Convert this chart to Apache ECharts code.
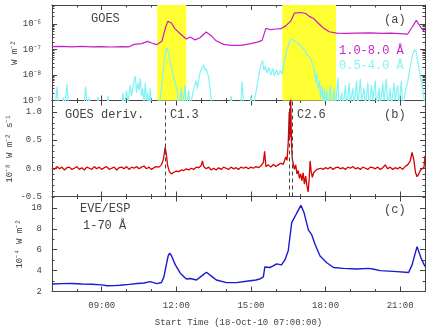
<!DOCTYPE html>
<html>
<head>
<meta charset="utf-8">
<script src="https://cdn.jsdelivr.net/npm/echarts@6/dist/echarts.min.js"></script>
<style>
html, body { margin: 0; padding: 0; background: #fff; }
#chart { width: 436px; height: 328px; }
</style>
</head>
<body>
<div id="chart"></div>
<script>
// hours after 00:00 on 18-Oct-2010
var hourTickValues = [9, 12, 15, 18, 21];
var hourTicks = ['09:00', '12:00', '15:00', '18:00', '21:00'];
var minorHours = [7, 8, 9, 10, 11, 12, 13, 14, 15, 16, 17, 18, 19, 20, 21, 22];

// yellow flare intervals and flare start marks
var flareBoxes = [[11.23, 12.40], [16.26, 18.42]];
var flareMarks = [11.57, 16.53, 16.65];

// GOES 1.0-8.0 A (W m^-2)
var goesLongT = [7.0, 7.4, 7.8, 8.2, 8.6, 9.0, 9.4, 9.8, 10.1, 10.3, 10.6, 10.85, 11.0, 11.2, 11.42, 11.56, 11.66, 11.8, 11.95, 12.2, 12.4, 12.55, 12.75, 12.95, 13.2, 13.4, 13.6, 13.9, 14.2, 14.6, 15.0, 15.3, 15.45, 15.6, 15.8, 16.0, 16.2, 16.4, 16.6, 16.75, 17.0, 17.2, 17.35, 17.5, 17.7, 17.9, 18.15, 18.45, 18.8, 19.25, 19.8, 20.3, 20.6, 21.0, 21.3, 21.5, 21.65, 21.85, 22.0];
var goesLong = [1.30e-7, 1.34e-7, 1.28e-7, 1.33e-7, 1.27e-7, 1.31e-7, 1.26e-7, 1.30e-7, 1.28e-7, 1.6e-7, 1.7e-7, 2.1e-7, 1.8e-7, 1.55e-7, 2.1e-7, 7.0e-7, 1.3e-6, 1.1e-6, 6.5e-7, 3.8e-7, 2.6e-7, 3.1e-7, 2.4e-7, 2.9e-7, 4.9e-7, 3.5e-7, 2.2e-7, 1.6e-7, 1.45e-7, 1.45e-7, 1.7e-7, 2.0e-7, 2.3e-7, 6.8e-7, 6.0e-7, 6.4e-7, 6.6e-7, 8.5e-7, 1.3e-6, 2.7e-6, 2.85e-6, 2.6e-6, 2.0e-6, 1.7e-6, 1.1e-6, 7.2e-7, 5.0e-7, 4.4e-7, 4.3e-7, 4.4e-7, 4.5e-7, 4.3e-7, 4.4e-7, 4.2e-7, 4.0e-7, 8.0e-7, 1.4e-6, 7.0e-7, 4.8e-7];

// GOES 0.5-4.0 A (W m^-2), values under 1e-9 fall below the axis
var goesShortT = [7.0, 7.13, 7.2, 7.27, 7.39, 7.45, 7.51, 7.53, 7.6, 7.67, 8.28, 8.35, 8.42, 8.5, 8.56, 8.79, 8.85, 8.91, 9.19, 9.25, 9.31, 9.8, 9.85, 9.9, 10.0, 10.05, 10.15, 10.2, 10.3, 10.35, 10.4, 10.45, 10.5, 10.55, 10.6, 10.65, 10.7, 10.75, 10.8, 10.85, 10.9, 10.95, 11.0, 11.3, 11.38, 11.45, 11.52, 11.6, 11.68, 11.76, 11.85, 11.95, 12.05, 12.1, 12.2, 12.25, 12.35, 12.4, 12.5, 12.55, 12.7, 12.8, 12.85, 12.95, 13.05, 13.1, 13.15, 13.2, 13.3, 13.35, 13.45, 14.13, 14.2, 14.27, 14.58, 14.65, 14.72, 14.93, 15.0, 15.07, 15.2, 15.3, 15.4, 15.47, 15.52, 15.58, 15.65, 15.72, 15.8, 15.88, 15.95, 16.02, 16.1, 16.18, 16.25, 16.33, 16.42, 16.52, 16.6, 16.7, 16.8, 16.9, 17.0, 17.1, 17.18, 17.25, 17.32, 17.4, 17.48, 17.55, 17.6, 17.65, 17.7, 17.75, 17.8, 17.85, 17.9, 17.95, 18.0, 18.05, 18.1, 18.2, 18.25, 18.35, 18.4, 18.5, 18.55, 18.65, 18.7, 18.8, 18.85, 18.95, 19.0, 19.1, 19.15, 19.25, 19.3, 19.4, 19.45, 19.55, 19.6, 19.7, 19.75, 19.85, 19.9, 20.0, 20.05, 20.15, 20.2, 20.3, 20.35, 20.45, 20.5, 20.6, 20.65, 20.75, 20.8, 20.9, 20.95, 21.05, 21.1, 21.2, 21.3, 21.4, 21.5, 21.58, 21.65, 21.72, 21.8, 21.88, 21.95, 22.0];
var goesShort = [5e-10, 5e-10, 3.5e-9, 5e-10, 5e-10, 1.3e-9, 5e-10, 5e-10, 4.5e-9, 5e-10, 5e-10, 3.5e-9, 5e-10, 1.3e-9, 5e-10, 5e-10, 1.4e-9, 5e-10, 5e-10, 1.5e-9, 5e-10, 5e-10, 2e-9, 5e-10, 2.5e-9, 8e-10, 4e-9, 1.5e-9, 6e-9, 9e-9, 2e-9, 5e-9, 2.5e-9, 7.5e-9, 1.5e-9, 3e-9, 8e-10, 5e-9, 1e-9, 2e-9, 5e-10, 3e-9, 5e-10, 5e-10, 2e-9, 8e-9, 4e-8, 1.15e-7, 8e-8, 3e-8, 1.2e-8, 5e-9, 2e-9, 5e-10, 3e-9, 5e-10, 4e-9, 5e-10, 2.5e-9, 5e-10, 3e-9, 6e-9, 3e-9, 1.2e-8, 2e-8, 2.5e-8, 1.5e-8, 1.8e-8, 8e-9, 3e-9, 5e-10, 5e-10, 1.5e-9, 5e-10, 5e-10, 5.5e-9, 5e-10, 5e-10, 1.5e-9, 5e-10, 2e-9, 8e-9, 2.5e-8, 3.7e-8, 1.5e-8, 2.2e-8, 1.2e-8, 2e-8, 1e-8, 1.8e-8, 9e-9, 1.6e-8, 1e-8, 1.5e-8, 1.1e-8, 3e-8, 8e-8, 1.6e-7, 2.6e-7, 2.3e-7, 2.0e-7, 1.7e-7, 1.4e-7, 1.1e-7, 9e-8, 6.5e-8, 7.5e-8, 4.5e-8, 2.5e-8, 1.5e-8, 5e-9, 1.2e-8, 3e-9, 6e-9, 1.2e-9, 4e-9, 8e-10, 3e-9, 5e-10, 2.5e-9, 5e-10, 4e-9, 5e-10, 3e-9, 5e-10, 8e-9, 5e-10, 2e-9, 5e-10, 4e-9, 5e-10, 5e-9, 8e-10, 3e-9, 5e-10, 6e-9, 5e-10, 7e-9, 1e-9, 3e-9, 5e-10, 5e-9, 5e-10, 4e-9, 1e-9, 6e-9, 5e-10, 3e-9, 5e-10, 5e-9, 1e-9, 7e-9, 5e-10, 3e-9, 5e-10, 5e-9, 1e-9, 4e-9, 5e-10, 6e-9, 5e-10, 2e-9, 5e-9, 2e-8, 6e-8, 1e-7, 8e-8, 3e-8, 1e-8, 4e-9, 1.5e-9, 5e-10];

// GOES derivative (1e-8 W m^-2 s^-1)
var derivT = [7.0, 7.1, 7.2, 7.3, 7.4, 7.5, 7.6, 7.7, 7.8, 7.9,
  8.0, 8.1, 8.2, 8.3, 8.4, 8.5, 8.6, 8.7, 8.8, 8.9,
  9.0, 9.1, 9.2, 9.3, 9.4, 9.5, 9.6, 9.7, 9.8, 9.9,
  10.0, 10.1, 10.2, 10.3, 10.4, 10.5, 10.6, 10.7, 10.8, 10.9,
  11.0, 11.1, 11.2, 11.3, 11.4, 11.48, 11.55, 11.6, 11.65, 11.72,
  11.8, 11.9, 12.0, 12.1, 12.2, 12.3, 12.4, 12.5, 12.6, 12.7,
  12.8, 12.9, 13.0, 13.05, 13.1, 13.2, 13.3, 13.4, 13.5, 13.6,
  13.7, 13.8, 13.9, 14.0, 14.1, 14.2, 14.3, 14.4, 14.5, 14.6,
  14.7, 14.8, 14.9, 15.0, 15.1, 15.2, 15.3, 15.4, 15.5, 15.55,
  15.6, 15.7, 15.8, 15.9, 16.0, 16.1, 16.2, 16.3, 16.4, 16.45,
  16.5, 16.54, 16.57, 16.6, 16.63, 16.66, 16.7, 16.75, 16.8, 16.85,
  16.9, 16.95, 17.0, 17.05, 17.1, 17.15, 17.2, 17.25, 17.3, 17.34,
  17.38, 17.42, 17.47, 17.52, 17.58, 17.65, 17.7, 17.8, 17.9, 18.0,
  18.1, 18.2, 18.3, 18.4, 18.5, 18.6, 18.7, 18.8, 18.9, 19.0,
  19.1, 19.2, 19.3, 19.4, 19.5, 19.6, 19.7, 19.8, 19.9, 20.0,
  20.1, 20.2, 20.3, 20.4, 20.5, 20.6, 20.7, 20.8, 20.9, 21.0,
  21.1, 21.2, 21.3, 21.4, 21.48, 21.55, 21.62, 21.68, 21.75, 21.82,
  21.9, 21.96, 22.0];
var derivV = [0.01, -0.02, 0.03, -0.01, 0.02, -0.03, 0.01, 0.02, -0.02, 0.0,
  0.03, -0.02, 0.01, -0.03, 0.02, 0.0, -0.02, 0.03, -0.01, 0.02,
  -0.02, 0.01, 0.03, -0.02, 0.0, 0.02, -0.03, 0.01, 0.02, -0.01,
  0.03, -0.02, 0.02, 0.0, 0.03, -0.01, 0.02, 0.04, -0.01, 0.02,
  -0.02, 0.01, 0.03, 0.02, 0.06, 0.16, 0.37, 0.24, 0.05, -0.06,
  -0.1, -0.07, -0.05, -0.06, -0.03, -0.04, -0.01, -0.03, 0.0, -0.02,
  0.02, 0.01, 0.05, 0.13, 0.03, -0.01, 0.02, -0.03, 0.0, -0.03,
  0.01, -0.02, 0.02, 0.0, -0.02, 0.02, -0.01, 0.01, -0.02, 0.02,
  0.0, 0.02, -0.01, 0.02, 0.0, 0.03, 0.01, 0.04, 0.1, 0.3,
  0.03, 0.06, 0.02, 0.07, 0.03, 0.06, 0.09, 0.07, 0.2, 0.14,
  0.45, 1.0, 0.55, 1.25, 0.45, 0.18, 0.08, -0.02, 0.06, -0.1,
  -0.04, -0.18, -0.1, -0.22, -0.08, -0.28, -0.14, -0.3, -0.42, -0.2,
  0.13, -0.05, -0.16, -0.08, -0.05, -0.02, -0.04, 0.0, -0.02, 0.01,
  -0.01, 0.02, -0.02, 0.01, 0.02, -0.01, 0.01, -0.02, 0.02, 0.0,
  0.03, -0.01, 0.01, -0.02, 0.02, 0.0, -0.02, 0.02, 0.01, -0.01,
  0.02, -0.02, 0.01, 0.06, -0.01, 0.02, -0.02, 0.01, -0.01, 0.02,
  -0.02, 0.03, 0.06, 0.12, 0.28, 0.15, -0.08, -0.15, -0.1, -0.03,
  0.0, 0.02, 0.22];

// EVE/ESP 1-70 A (1e-4 W m^-2)
var eveT = [7.0, 7.4, 7.8, 8.2, 8.6, 9.0, 9.22, 9.5, 9.74, 10.1, 10.43, 10.7, 10.95, 11.22, 11.4, 11.5, 11.6, 11.67, 11.73, 11.8, 11.96, 12.16, 12.4, 12.56, 12.81, 12.97, 13.21, 13.45, 13.61, 14.02, 14.42, 14.82, 15.2, 15.36, 15.5, 15.56, 15.63, 15.76, 15.9, 16.03, 16.23, 16.37, 16.5, 16.64, 16.84, 17.01, 17.13, 17.31, 17.44, 17.58, 17.78, 18.05, 18.32, 18.72, 19.26, 19.73, 19.79, 19.9, 20.2, 20.87, 21.34, 21.48, 21.68, 21.84, 22.0];
var eve = [2.72, 2.75, 2.76, 2.72, 2.7, 2.63, 2.55, 2.56, 2.6, 2.68, 2.76, 2.82, 2.94, 2.76, 2.86, 3.4, 4.6, 5.4, 5.68, 5.45, 4.55, 3.75, 3.2, 3.25, 3.1, 3.4, 3.85, 3.4, 3.1, 2.85, 2.85, 2.98, 3.1, 3.2, 3.4, 4.35, 4.4, 4.3, 4.45, 4.65, 4.55, 5.05, 5.9, 8.6, 9.5, 10.25, 9.6, 7.9, 7.45, 6.5, 5.4, 4.75, 4.3, 4.22, 4.15, 4.22, 4.33, 4.15, 4.0, 3.9, 3.82, 4.55, 6.3, 5.2, 4.4];

var AX = '#444';
var TXT = '#444';
var FONT = 'Liberation Mono';
var SUP = {'-': '\u207b', '0': '\u2070', '1': '\u00b9', '2': '\u00b2', '3': '\u00b3', '4': '\u2074',
  '5': '\u2075', '6': '\u2076', '7': '\u2077', '8': '\u2078', '9': '\u2079'};

function sup(n) {
  return String(n).split('').map(function (c) { return SUP[c]; }).join('');
}
function zip(t, v) {
  return t.map(function (x, i) { return [x, v[i]]; });
}

var logMinor = [];
[-9, -8, -7, -6].forEach(function (d) {
  for (var m = 2; m <= 9; m++) logMinor.push(m * Math.pow(10, d));
});
var derivMinor = [];
for (var k = -5; k <= 12; k++) derivMinor.push(k / 10);

var panels = [
  { type: 'log', min: 1e-9, max: 5.6e-6, major: [1e-9, 1e-8, 1e-7, 1e-6], minor: logMinor,
    fmt: function (v) { return '10' + sup(Math.round(Math.log10(v))); },
    name: 'W m\u207b\u00b2', nameGap: 33 },
  { type: 'value', min: -0.5, max: 1.2, major: [-0.5, 0, 0.5, 1.0], minor: derivMinor,
    fmt: function (v) { return v.toFixed(1); },
    name: '10\u207b\u2078 W m\u207b\u00b2 s\u207b\u00b9', nameGap: 38 },
  { type: 'value', min: 2, max: 11.1, major: [2, 4, 6, 8, 10], minor: [3, 5, 7, 9, 11],
    fmt: function (v) { return String(v); },
    name: '10\u207b\u2074 W m\u207b\u00b2', nameGap: 28 }
];

var gridTops = [5, 100.5, 196.5];
var gridHeights = [95.5, 96, 95];
var grids = gridTops.map(function (t, i) {
  return { left: 52, top: t, width: 373, height: gridHeights[i], containLabel: false, outerBoundsMode: 'none' };
});

var labelStyle = { color: TXT, fontFamily: FONT, fontSize: 9 };
var xAxes = [], yAxes = [];

function addX(g, pos, labels) {
  xAxes.push({
    type: 'value', gridIndex: g, position: pos, min: 7, max: 22,
    axisLine: { onZero: false, lineStyle: { color: AX, width: 1 } },
    axisTick: { inside: true, length: 5, customValues: hourTickValues, lineStyle: { color: AX } },
    axisLabel: labels ? Object.assign({ customValues: hourTickValues, margin: 10,
      formatter: function (v) { return hourTicks[hourTickValues.indexOf(v)]; } }, labelStyle) : { show: false },
    splitLine: { show: false },
    name: labels ? 'Start Time (18-Oct-10 07:00:00)' : '',
    nameLocation: 'middle', nameGap: 27, nameMoveOverlap: false, nameTextStyle: labelStyle
  });
  xAxes.push({
    type: 'value', gridIndex: g, position: pos, min: 7, max: 22,
    axisLine: { show: false, onZero: false },
    axisTick: { inside: true, length: 2.5, customValues: minorHours, lineStyle: { color: AX } },
    axisLabel: { show: false }, splitLine: { show: false }
  });
}

function addY(g, pos, labels) {
  var p = panels[g];
  yAxes.push({
    type: p.type, gridIndex: g, position: pos, min: p.min, max: p.max,
    axisLine: { onZero: false, lineStyle: { color: AX, width: 1 } },
    axisTick: { inside: true, length: 5, customValues: p.major, lineStyle: { color: AX } },
    axisLabel: labels ? Object.assign({ customValues: p.major, formatter: p.fmt, margin: 10 }, labelStyle) : { show: false },
    splitLine: { show: false },
    name: labels ? p.name : '', nameLocation: 'middle', nameGap: p.nameGap,
    nameMoveOverlap: false, nameTextStyle: labelStyle
  });
  yAxes.push({
    type: p.type, gridIndex: g, position: pos, min: p.min, max: p.max,
    axisLine: { show: false, onZero: false },
    axisTick: { inside: true, length: 2.5, customValues: p.minor, lineStyle: { color: AX } },
    axisLabel: { show: false }, splitLine: { show: false }
  });
}

for (var g = 0; g < 3; g++) {
  addX(g, 'bottom', g === 2);
  addX(g, 'top', false);
  addY(g, 'left', true);
  addY(g, 'right', false);
}

function note(text, x, y, color) {
  return { type: 'text', x: x, y: y, silent: true, z: 10,
    style: { text: text, fill: color || TXT, font: '12px "' + FONT + '"', verticalAlign: 'middle', align: 'left' } };
}

var option = {
  animation: false,
  backgroundColor: '#fff',
  grid: grids,
  xAxis: xAxes,
  yAxis: yAxes,
  series: [
    {
      type: 'line', xAxisIndex: 0, yAxisIndex: 0, data: [], z: 1, silent: true,
      markArea: {
        silent: true,
        itemStyle: { color: '#ffff33', opacity: 1 },
        data: flareBoxes.map(function (b) { return [{ xAxis: b[0] }, { xAxis: b[1] }]; })
      }
    },
    {
      name: '0.5-4.0', type: 'line', xAxisIndex: 0, yAxisIndex: 0, z: 2,
      data: zip(goesShortT, goesShort), showSymbol: false,
      lineStyle: { color: '#80f4f4', width: 1.2 }
    },
    {
      name: '1.0-8.0', type: 'line', xAxisIndex: 0, yAxisIndex: 0, z: 3,
      data: zip(goesLongT, goesLong), showSymbol: false,
      lineStyle: { color: '#c81ec8', width: 1.2 }
    },
    {
      name: 'deriv', type: 'line', xAxisIndex: 4, yAxisIndex: 4, z: 3,
      data: zip(derivT, derivV), showSymbol: false,
      lineStyle: { color: '#d80000', width: 1.3 },
      markLine: {
        silent: true, symbol: 'none', label: { show: false },
        lineStyle: { color: '#444', type: [4, 3], width: 1 },
        data: flareMarks.map(function (x) { return { xAxis: x }; })
      }
    },
    {
      name: 'eve', type: 'line', xAxisIndex: 8, yAxisIndex: 8, z: 3,
      data: zip(eveT, eve), showSymbol: false,
      lineStyle: { color: '#1a1ad2', width: 1.4 }
    }
  ],
  graphic: [
    note('GOES', 91, 19),
    note('(a)', 384, 20),
    note('1.0-8.0 \u00c5', 339, 51, '#c81ec8'),
    note('0.5-4.0 \u00c5', 339, 66, '#80f4f4'),
    note('GOES deriv.', 65, 115),
    note('C1.3', 170, 115),
    note('C2.6', 297, 115),
    note('(b)', 384, 115),
    note('EVE/ESP', 80, 209),
    note('1-70 \u00c5', 83, 226),
    note('(c)', 384, 210)
  ]
};

var chart = echarts.init(document.getElementById('chart'));
chart.setOption(option);
</script>
</body>
</html>
